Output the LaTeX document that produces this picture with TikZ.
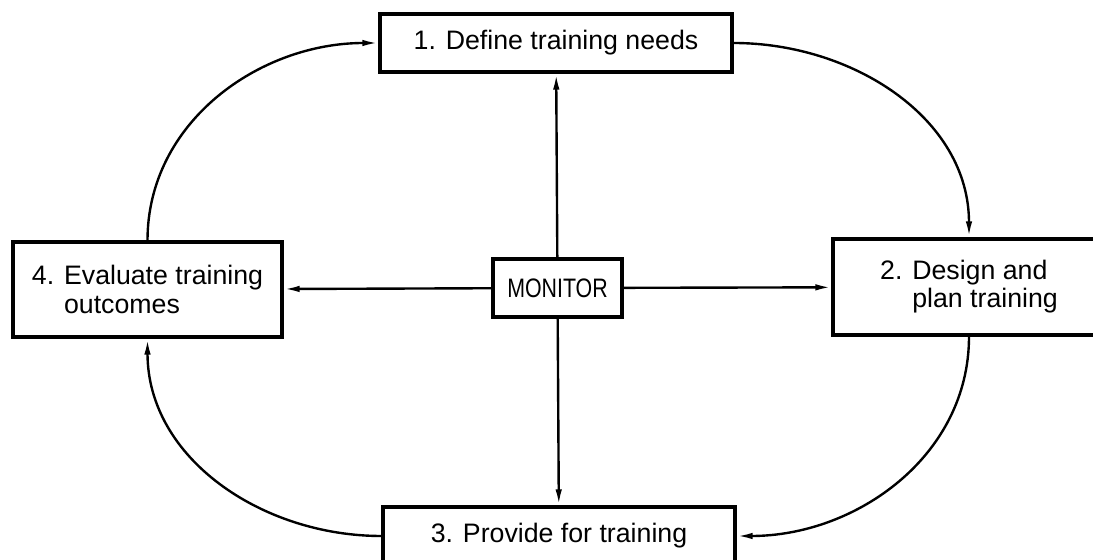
\documentclass[tikz,border=0pt]{standalone}
\usepackage{fontspec}
\setmainfont{Liberation Sans}
\newfontfamily\narrowfont[FakeStretch=0.8]{Liberation Sans}
\usetikzlibrary{arrows.meta}

\begin{document}
\begin{tikzpicture}[x = .25mm, y = .25mm, >={Latex[length=4mm, width=1.6mm]},
    stage/.style = {draw, line width = 2.2pt, align = left, font = \fontsize{19}{20}\selectfont},
    flow/.style = {->, line width = 1.7pt}]
    \useasboundingbox (0,0) rectangle (1093,560);
    \node[stage, minimum width = 8.8cm, minimum height = 1.45cm] (need) at (556,517) {1. Define training needs};
    \node[stage, minimum width = 6.8cm, minimum height = 2.4cm] (design) at (969,273) {2. Design and\\\phantom{2. }plan training};
    \node[stage, minimum width = 8.8cm, minimum height = 1.45cm] (provide) at (559,24) {3. Provide for training};
    \node[stage, minimum width = 6.725cm, minimum height = 2.375cm] (evaluate) at (147.5,270.5) {4. Evaluate training\\\phantom{4. }outcomes};
    \node[stage, minimum width = 3.225cm, minimum height = 1.45cm, font = \narrowfont\fontsize{19}{20}\selectfont] (monitor) at (557.5,272) {MONITOR};
    \draw[flow] (monitor) -- (need);
    \draw[flow] (monitor) -- (design);
    \draw[flow] (monitor) -- (provide);
    \draw[flow] (monitor) -- (evaluate);
    \draw[flow] (evaluate.north) to[out = 90, in = 180] (need.west);
    \draw[flow] (need.east) to[out = 0, in = 90] (design.north);
    \draw[flow] (design.south) to[out = 270, in = 0] (provide.east);
    \draw[flow] (provide.west) to[out = 180, in = 270] (evaluate.south);
\end{tikzpicture}
\end{document}
